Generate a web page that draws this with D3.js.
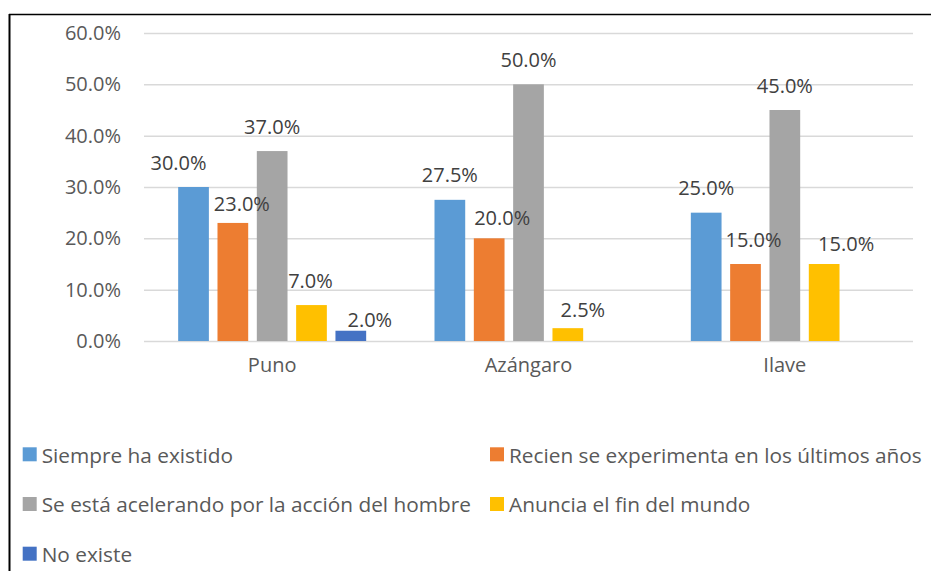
<!DOCTYPE html>
<html>
<head>
<meta charset="utf-8">
<script src="https://cdn.jsdelivr.net/npm/d3@7"></script>
<style>
  html, body { margin: 0; padding: 0; background: #fff; }
  svg { display: block; font-family: "Open Sans", sans-serif; }
</style>
</head>
<body>
<svg id="chart" width="931" height="571"></svg>
<script>
// ---- data ----
const categories = ["Puno", "Azángaro", "Ilave"];
const seriesNames = [
  "Siempre ha existido",
  "Recien se experimenta en los últimos años",
  "Se está acelerando por la acción del hombre",
  "Anuncia el fin del mundo",
  "No existe"
];
const siempreHaExistido = [30.0, 27.5, 25.0];
const recienSeExperimenta = [23.0, 20.0, 15.0];
const seEstaAcelerando = [37.0, 50.0, 45.0];
const anunciaElFin = [7.0, 2.5, 15.0];
const noExiste = [2.0, null, null];
const yTicks = [0, 10, 20, 30, 40, 50, 60];

// ---- layout / style ----
const colors = ["#5B9BD5", "#ED7D31", "#A5A5A5", "#FFC000", "#4472C4"];
// manual label nudges (dx, dy) per series per category, as in the original
const labelNudge = [
  [[-15, 0], [0, 0], [0, 0]],
  [[9, 6], [13, 4], [8, 0]],
  [[0, 0], [0, 0], [0, 0]],
  [[-1, 0], [15, 6], [22, 4]],
  [[19, 14], [0, 0], [0, 0]]
];

const seriesValues = [siempreHaExistido, recienSeExperimenta, seEstaAcelerando, anunciaElFin, noExiste];

const svg = d3.select("#chart");

// frame lines (partial border of the original figure)
svg.append("line").attr("x1", 9).attr("x2", 931).attr("y1", 14.5).attr("y2", 14.5)
  .attr("stroke", "#000").attr("stroke-width", 1.5);
svg.append("line").attr("x1", 9.5).attr("x2", 9.5).attr("y1", 14).attr("y2", 571)
  .attr("stroke", "#000").attr("stroke-width", 2);

const x0 = d3.scaleBand().domain(categories).range([144, 913]).padding(0);
const y = d3.scaleLinear().domain([0, 60]).range([341, 33]);

const groupHalf = 94;
const x1 = d3.scaleBand().domain(d3.range(seriesNames.length))
  .range([-groupHalf, groupHalf]).paddingInner(0.219).paddingOuter(0);

// gridlines
const yAxis = d3.axisLeft(y).tickValues(yTicks)
  .tickSize(-(913 - 144)).tickFormat(d => d.toFixed(1) + "%").tickPadding(23);
const gy = svg.append("g").attr("transform", "translate(144,0)").call(yAxis);
gy.select(".domain").remove();
gy.selectAll(".tick line").attr("stroke", "#D9D9D9").attr("stroke-width", 1.5);
gy.selectAll(".tick text").attr("fill", "#595959").style("font-size", "20px")
  .style("font-family", "'Open Sans', sans-serif");

// x axis labels
const xAxis = d3.axisBottom(x0).tickSize(0).tickPadding(17);
const gx = svg.append("g").attr("transform", "translate(0,341)").call(xAxis);
gx.select(".domain").remove();
gx.selectAll(".tick text").attr("fill", "#595959").style("font-size", "20px")
  .style("font-family", "'Open Sans', sans-serif");

// bars
const barData = [];
seriesValues.forEach((vals, si) => {
  vals.forEach((v, ci) => {
    if (v !== null) barData.push({ si, ci, v, cat: categories[ci] });
  });
});

const cx = d => x0(d.cat) + x0.bandwidth() / 2;

svg.append("g").selectAll("rect").data(barData).join("rect")
  .attr("x", d => cx(d) + x1(d.si))
  .attr("y", d => y(d.v))
  .attr("width", x1.bandwidth())
  .attr("height", d => y(0) - y(d.v))
  .attr("fill", d => colors[d.si]);

// data labels
svg.append("g").selectAll("text").data(barData).join("text")
  .attr("x", d => cx(d) + x1(d.si) + x1.bandwidth() / 2 + labelNudge[d.si][d.ci][0])
  .attr("y", d => y(d.v) - 17.5 + labelNudge[d.si][d.ci][1])
  .attr("text-anchor", "middle")
  .attr("fill", "#404040")
  .style("font-size", "20px")
  .text(d => d.v.toFixed(1) + "%");

// legend
const legendPos = [[22.7, 0], [490, 0], [22.7, 1], [490, 1], [22.7, 2]];
const lg = svg.append("g").selectAll("g").data(seriesNames).join("g")
  .attr("transform", (d, i) => `translate(${legendPos[i][0]},${447.3 + legendPos[i][1] * 49.7})`);
lg.append("rect").attr("width", 14).attr("height", 14).attr("fill", (d, i) => colors[i]);
lg.append("text").attr("x", 19).attr("y", 15.3).attr("fill", "#595959")
  .style("font-size", "20.8px").text(d => d);
</script>
</body>
</html>
